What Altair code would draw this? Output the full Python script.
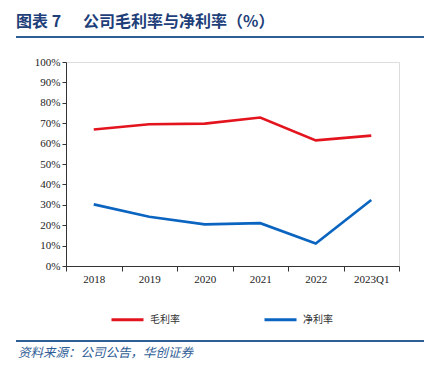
import altair as alt
import pandas as pd

categories = ["2018", "2019", "2020", "2021", "2022", "2023Q1"]
gross_margin = [66.9, 69.5, 69.8, 72.8, 61.6, 63.9]
net_margin = [30.2, 24.1, 20.4, 21.0, 11.0, 32.4]
series_names = ["毛利率", "净利率"]
series_colors = ["#E3141E", "#0A64C0"]
y_ticks = [0, 10, 20, 30, 40, 50, 60, 70, 80, 90, 100]

title_label = "图表 7"
title_text = "公司毛利率与净利率（%）"
source_text = "资料来源：公司公告，华创证券"

rows = []
for c, g, n in zip(categories, gross_margin, net_margin):
    rows.append({"year": c, "series": series_names[0], "value": g})
    rows.append({"year": c, "series": series_names[1], "value": n})
df = pd.DataFrame(rows)

W, H = 333, 204
NAVY = "#1F3F7A"
RULE = "#2F5D95"
serif = "Liberation Serif"
cjk = "Noto Sans CJK SC"

lines = alt.Chart(df).mark_line(strokeWidth=2.6, clip=False).encode(
    x=alt.X("year:N", sort=categories, bandPosition=0.5,
            scale=alt.Scale(type="band", domain=categories, paddingInner=0, paddingOuter=0),
            axis=alt.Axis(title=None, labelAngle=0, tickBand="extent", tickSize=5,
                          labelFont=serif, labelFontSize=11, labelColor="#222",
                          labelPadding=2, domainColor="#333", tickColor="#333")),
    y=alt.Y("value:Q", scale=alt.Scale(domain=[0, 100], nice=False),
            axis=alt.Axis(title=None, values=y_ticks, labelExpr="datum.value + '%'",
                          grid=False, tickSize=4, labelFont=serif, labelFontSize=11,
                          labelColor="#222", labelPadding=2, domainColor="#333", tickColor="#333")),
    color=alt.Color("series:N", sort=series_names,
                    scale=alt.Scale(domain=series_names, range=series_colors),
                    legend=alt.Legend(title=None, orient="none", legendX=44, legendY=240,
                                      direction="horizontal", symbolType="stroke",
                                      symbolSize=1024, symbolStrokeWidth=3,
                                      labelFont=cjk, labelFontSize=10, labelColor="#333",
                                      labelOffset=5, columnPadding=78)),
)

one = alt.Data(values=[{"a": 1}])

title_mark1 = alt.Chart(one).mark_text(
    text=title_label, font=cjk, fontSize=16, fontWeight="bold", color=NAVY,
    align="left", baseline="middle"
).encode(x=alt.value(-50), y=alt.value(-40.5))

title_mark2 = alt.Chart(one).mark_text(
    text=title_text, font=cjk, fontSize=16, fontWeight="bold", color=NAVY,
    align="left", baseline="middle"
).encode(x=alt.value(17), y=alt.value(-40.5))

top_rule = alt.Chart(one).mark_rule(color=RULE, strokeWidth=2).encode(
    x=alt.value(-50), x2=alt.value(362), y=alt.value(-25))

bottom_rule = alt.Chart(one).mark_rule(color=RULE, strokeWidth=2).encode(
    x=alt.value(-50), x2=alt.value(362), y=alt.value(279))

source_mark = alt.Chart(one).mark_text(
    text=source_text, font=cjk, fontSize=12.5, fontStyle="italic", color=RULE,
    align="left", baseline="middle"
).encode(x=alt.value(-48), y=alt.value(291))

chart = alt.layer(lines, title_mark1, title_mark2, top_rule, bottom_rule, source_mark).properties(
    width=W, height=H,
    autosize=alt.AutoSizeParams(type="none"),
    padding={"left": 58, "top": 54, "right": 25, "bottom": 95},
).configure_view(stroke=None).configure(background="white")

chart.save("out.html", embed_options={"renderer": "svg", "actions": False})
